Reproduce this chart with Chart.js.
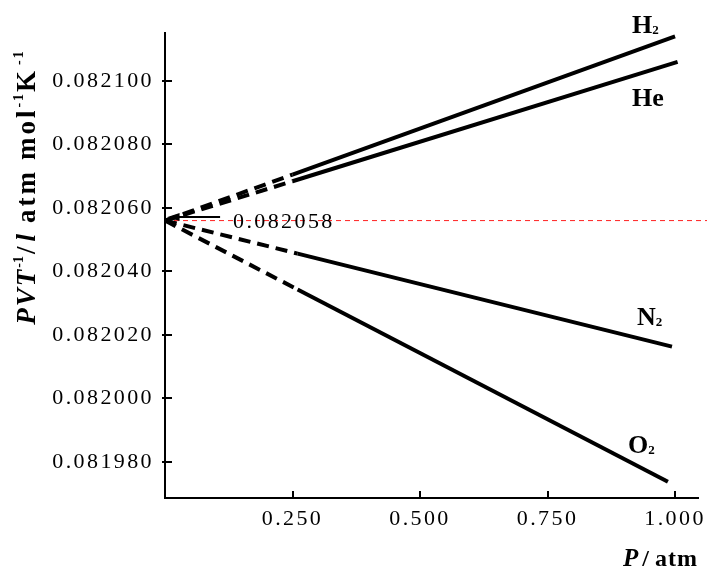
<!DOCTYPE html>
<html>
<head>
<meta charset="utf-8">
<script src="https://cdn.jsdelivr.net/npm/chart.js@4.4.0/dist/chart.umd.min.js"></script>
<style>
  html, body { margin: 0; padding: 0; background: #fff; overflow: hidden; }
</style>
</head>
<body>
<canvas id="myChart" width="707" height="568"></canvas>
<script>
// values (P in atm, PV/T in l atm mol-1 K-1)
var h2P = [0, 0.25, 1.0];
var h2V = [0.082056, 0.0820705, 0.082114];
var heP = [0, 0.25, 1.005];
var heV = [0.082056, 0.0820684, 0.082106];
var n2P = [0, 0.26, 0.994];
var n2V = [0.082056, 0.0820456, 0.0820163];
var o2P = [0, 0.26, 0.986];
var o2V = [0.082056, 0.0820343, 0.0819737];

var refP = [0, 1.07];
var refV = [0.082056, 0.082056];

var xTicks = [0.25, 0.5, 0.75, 1.0];
var yTicks = [0.08198, 0.08200, 0.08202, 0.08204, 0.08206, 0.08208, 0.08210];

// gas labels: [main, sub, P, value at baseline]
var gasLabels = [
  ['H', '2', 0.9156, 0.0821151],
  ['He', '', 0.9156, 0.0820921],
  ['N', '2', 0.9254, 0.0820231],
  ['O', '2', 0.9078, 0.0819827]
];
var refLabel = '0.082058';

var serif = '"Liberation Serif", "Times New Roman", serif';

function pts(xs, ys) {
  return xs.map(function(x, i) { return { x: x, y: ys[i] }; });
}

function gas(label, xs, ys) {
  return {
    label: label,
    data: pts(xs, ys),
    borderColor: '#000',
    borderWidth: 4,
    pointRadius: 0,
    fill: false,
    tension: 0,
    segment: {
      borderDash: function(c) { return c.p0DataIndex === 0 ? [12, 7] : undefined; }
    }
  };
}

function drawParts(ctx, parts, x, y, draw) {
  var cx = x;
  parts.forEach(function(p) {
    ctx.font = p.f;
    ctx.letterSpacing = p.ls || '0px';
    if (draw) ctx.fillText(p.t, cx, y + (p.dy || 0));
    cx += ctx.measureText(p.t).width + (p.gap || 0);
  });
  return cx - x;
}

var decor = {
  id: 'decor',
  beforeLayout: function(chart) { chart.ctx.letterSpacing = '2.4px'; },
  beforeDraw: function(chart) { chart.ctx.letterSpacing = '2.4px'; },
  afterDraw: function(chart) {
    var ctx = chart.ctx;
    var xs = chart.scales.x, ys = chart.scales.y;
    var area = chart.chartArea;
    ctx.save();
    ctx.strokeStyle = '#000';
    ctx.fillStyle = '#000';
    ctx.lineWidth = 2;
    // inward tick marks
    ctx.beginPath();
    yTicks.forEach(function(v) {
      var py = Math.round(ys.getPixelForValue(v));
      ctx.moveTo(area.left - 3, py);
      ctx.lineTo(area.left + 7, py);
    });
    xTicks.forEach(function(v) {
      var px = Math.round(xs.getPixelForValue(v));
      ctx.moveTo(px, area.bottom);
      ctx.lineTo(px, area.bottom - 7);
    });
    ctx.stroke();

    // arrow to the intercept
    var ay = ys.getPixelForValue(0.0820571);
    var ax0 = xs.getPixelForValue(0.005), ax1 = xs.getPixelForValue(0.108);
    ctx.beginPath();
    ctx.moveTo(ax0 + 6, ay);
    ctx.lineTo(ax1, ay);
    ctx.stroke();
    ctx.beginPath();
    ctx.moveTo(ax0, ay);
    ctx.lineTo(ax0 + 12, ay - 4);
    ctx.lineTo(ax0 + 12, ay + 4);
    ctx.closePath();
    ctx.fill();

    ctx.textBaseline = 'alphabetic';
    ctx.textAlign = 'left';
    drawParts(ctx, [{ t: refLabel, f: '22px ' + serif, ls: '2.4px' }],
      xs.getPixelForValue(0.1333), ys.getPixelForValue(0.0820536), true);

    // gas labels
    gasLabels.forEach(function(g) {
      var parts = [{ t: g[0], f: 'bold 26px ' + serif, ls: '0px' }];
      if (g[1]) parts.push({ t: g[1], f: 'bold 13px ' + serif, dy: 1 });
      drawParts(ctx, parts, xs.getPixelForValue(g[2]), ys.getPixelForValue(g[3]), true);
    });

    // x title
    drawParts(ctx, [
      { t: 'P', f: 'italic bold 25px ' + serif, gap: 4 },
      { t: '/', f: 'bold 24px ' + serif, gap: 6 },
      { t: 'atm', f: 'bold 24px ' + serif, ls: '1px' }
    ], 623, 566, true);

    // y title (rotated)
    var yParts = [
      { t: 'PVT', f: 'italic bold 27px ' + serif, ls: '2px' },
      { t: '-1', f: 'bold 14px ' + serif, dy: -12, gap: 2 },
      { t: '/', f: 'bold 27px ' + serif, gap: 5 },
      { t: 'l', f: 'italic bold 27px ' + serif, gap: 11 },
      { t: 'atm', f: 'bold 27px ' + serif, ls: '3px', gap: 9 },
      { t: 'mol', f: 'bold 27px ' + serif, ls: '3px' },
      { t: '-1', f: 'bold 14px ' + serif, dy: -12, ls: '2px' },
      { t: 'K', f: 'bold 27px ' + serif, gap: 6 },
      { t: '-1', f: 'bold 14px ' + serif, dy: -12, ls: '2px' }
    ];
    var w = drawParts(ctx, yParts, 0, 0, false);
    ctx.translate(35, 187);
    ctx.rotate(-Math.PI / 2);
    drawParts(ctx, yParts, -w / 2, 0, true);
    ctx.restore();
  }
};

var ctx = document.getElementById('myChart').getContext('2d');
var myChart = new Chart(ctx, {
  type: 'line',
  data: {
    datasets: [
      gas('H2', h2P, h2V),
      gas('He', heP, heV),
      gas('N2', n2P, n2V),
      gas('O2', o2P, o2V),
      {
        label: 'ref',
        data: pts(refP, refV),
        borderColor: '#ff2020',
        borderWidth: 1,
        borderDash: [5, 4],
        pointRadius: 0,
        clip: false
      }
    ]
  },
  options: {
    responsive: false,
    animation: false,
    layout: { autoPadding: false, padding: { top: 33, right: 9, left: 0, bottom: 0 } },
    plugins: { legend: { display: false }, tooltip: { enabled: false } },
    scales: {
      x: {
        type: 'linear',
        min: 0,
        max: 1.045,
        afterFit: function(s) { s.height = 70; s.paddingLeft = 0; s.paddingRight = 0; },
        afterBuildTicks: function(s) { s.ticks = xTicks.map(function(v) { return { value: v }; }); },
        grid: { display: false },
        border: { display: true, color: '#000', width: 2 },
        ticks: {
          padding: 0,
          color: '#000',
          maxRotation: 0,
          font: { family: serif, size: 22 },
          callback: function(v) { return v.toFixed(3); }
        }
      },
      y: {
        type: 'linear',
        min: 0.0819686,
        max: 0.0821151,
        afterFit: function(s) { s.width = 165; },
        afterBuildTicks: function(s) { s.ticks = yTicks.map(function(v) { return { value: v }; }); },
        grid: { display: false },
        border: { display: true, color: '#000', width: 2 },
        ticks: {
          padding: 3,
          color: '#000',
          font: { family: serif, size: 22 },
          callback: function(v) { return v.toFixed(6); }
        }
      }
    }
  },
  plugins: [decor]
});
</script>
</body>
</html>
